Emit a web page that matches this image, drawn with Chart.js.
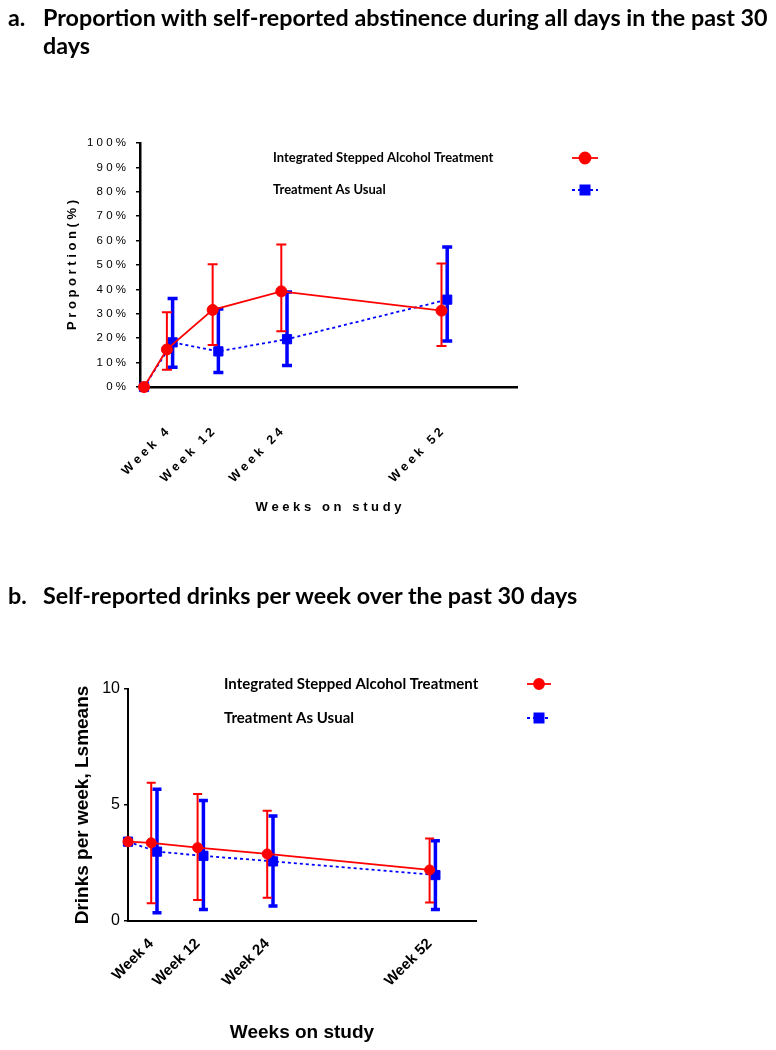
<!DOCTYPE html>
<html><head><meta charset="utf-8">
<script src="https://cdn.jsdelivr.net/npm/chart.js@4.4.1/dist/chart.umd.min.js"></script>
<style>
html,body{margin:0;padding:0;background:#fff;}
#page{position:relative;width:776px;height:1050px;overflow:hidden;background:#fff;}
canvas{position:absolute;left:0;}
#ca{top:0;}
#cb{top:560px;}
.head{position:absolute;left:8px;font-family:Lato,"Open Sans",sans-serif;font-weight:700;font-size:23.3px;color:#000;display:flex;line-height:28px;white-space:nowrap;}
.head .n{width:35px;}
</style></head><body>
<div id="page">
<canvas id="ca" width="776" height="540"></canvas>
<canvas id="cb" width="776" height="490"></canvas>
<div class="head" style="top:2.5px"><span class="n">a.</span><span>Proportion with self-reported abstinence during all days in the past 30<br>days</span></div>
<div class="head" style="top:580.5px"><span class="n">b.</span><span>Self-reported drinks per week over the past 30 days</span></div>
</div>
<script>
// ---------- data ----------
const weeks = [0, 4, 12, 24, 52];
const tickWeeks = [4, 12, 24, 52];
const weekTickLabels = ['Week 4', 'Week 12', 'Week 24', 'Week 52'];
const seriesNames = ['Integrated Stepped Alcohol Treatment', 'Treatment As Usual'];

// panel a: proportion with abstinence (%)
const istAbst     = [0, 15.4, 31.6, 39.2, 31.3];
const istAbstLow  = [null, 7.1, 17.2, 22.8, 16.8];
const istAbstHigh = [null, 30.6, 50.3, 58.4, 50.6];
const tauAbst     = [0, 18.3, 14.6, 19.6, 35.8];
const tauAbstLow  = [null, 8.1, 5.9, 8.8, 18.9];
const tauAbstHigh = [null, 36.3, 32.0, 38.9, 57.4];
const yTicksA = [0, 10, 20, 30, 40, 50, 60, 70, 80, 90, 100];

// panel b: drinks per week (LS means)
const istDrinks     = [3.42, 3.37, 3.16, 2.89, 2.20];
const istDrinksLow  = [null, 0.76, 0.90, 1.00, 0.80];
const istDrinksHigh = [null, 5.96, 5.47, 4.75, 3.56];
const tauDrinks     = [3.42, 2.99, 2.81, 2.57, 1.98];
const tauDrinksLow  = [null, 0.36, 0.50, 0.65, 0.50];
const tauDrinksHigh = [null, 5.68, 5.19, 4.53, 3.46];
const yTicksB = [0, 5, 10];

// ---------- helpers ----------
const RED = '#ff0000', BLUE = '#0000ff';
const DODGE = 1; // horizontal dodge (weeks) for the second series
const spaced = s => s.split('').join(' ');
const pts = (vals, dodge) => weeks.map((w, i) => ({x: w === 0 ? w : w + dodge, y: vals[i]}));

const errorBars = {
  id: 'errorBars',
  beforeDatasetDraw(chart, args, opts) {
    const s = opts.series && opts.series[args.index];
    if (!s) return;
    const ds = chart.data.datasets[args.index];
    const xs = chart.scales.x, ys = chart.scales.y, ctx = chart.ctx;
    ctx.save();
    ctx.strokeStyle = ds.borderColor;
    ctx.lineWidth = s.width;
    ctx.setLineDash([]);
    ds.data.forEach((p, i) => {
      const lo = s.low[i], hi = s.high[i];
      if (lo == null || hi == null) return;
      const x = xs.getPixelForValue(p.x);
      const y1 = ys.getPixelForValue(lo), y2 = ys.getPixelForValue(hi);
      ctx.beginPath();
      ctx.moveTo(x, y1); ctx.lineTo(x, y2);
      ctx.moveTo(x - s.cap, y1); ctx.lineTo(x + s.cap, y1);
      ctx.moveTo(x - s.cap, y2); ctx.lineTo(x + s.cap, y2);
      ctx.stroke();
    });
    ctx.restore();
  }
};

const sideLegend = {
  id: 'sideLegend',
  afterDraw(chart, args, o) {
    const ctx = chart.ctx;
    ctx.save();
    chart.data.datasets.forEach((ds, i) => {
      const y = o.y[i];
      ctx.font = o.font;
      ctx.fillStyle = '#000';
      ctx.textBaseline = 'middle';
      ctx.textAlign = 'left';
      ctx.fillText(ds.label, o.textX, y);
      ctx.strokeStyle = ds.borderColor;
      ctx.lineWidth = ds.borderWidth;
      ctx.setLineDash(ds.borderDash || []);
      ctx.beginPath();
      ctx.moveTo(o.markX - o.half, y); ctx.lineTo(o.markX + o.half, y);
      ctx.stroke();
      ctx.setLineDash([]);
      ctx.fillStyle = ds.backgroundColor;
      ctx.strokeStyle = ds.borderColor;
      Chart.helpers.drawPoint(ctx, {pointStyle: ds.pointStyle, rotation: 0, borderWidth: 1, radius: ds.pointRadius}, o.markX, y);
    });
    ctx.restore();
  }
};

function makeChart(id, cfg) {
  return new Chart(document.getElementById(id), {
    type: 'line',
    data: {
      datasets: [
        {label: seriesNames[0], data: pts(cfg.red, 0), borderColor: RED, backgroundColor: RED,
         borderWidth: 1.8, pointStyle: 'circle', pointRadius: cfg.rRed, pointBorderWidth: 1,
         pointHoverRadius: cfg.rRed, tension: 0, clip: false},
        {label: seriesNames[1], data: pts(cfg.blue, DODGE), borderColor: BLUE, backgroundColor: BLUE,
         borderWidth: 1.8, borderDash: [3, 3], pointStyle: 'rect', pointRadius: cfg.rBlue, pointBorderWidth: 1,
         pointHoverRadius: cfg.rBlue, tension: 0, clip: false}
      ]
    },
    options: {
      responsive: false, animation: false, devicePixelRatio: 1,
      layout: {padding: cfg.padding},
      plugins: {
        legend: {display: false}, tooltip: {enabled: false},
        errorBars: {series: [
          {low: cfg.redLow, high: cfg.redHigh, width: 2, cap: cfg.cap},
          {low: cfg.blueLow, high: cfg.blueHigh, width: 3.5, cap: cfg.cap}
        ]},
        sideLegend: cfg.legend
      },
      scales: {
        x: {
          type: 'linear', min: cfg.xMin, max: cfg.xMax,
          afterBuildTicks: s => { s.ticks = tickWeeks.map(v => ({value: v})); },
          afterFit: s => { s.height = cfg.xHeight; },
          ticks: {
            autoSkip: false, minRotation: 45, maxRotation: 45, padding: cfg.xTickPad, color: '#000',
            font: cfg.xTickFont,
            callback: v => cfg.fmtX(weekTickLabels[tickWeeks.indexOf(v)])
          },
          grid: {display: false, drawTicks: false},
          border: {display: true, color: '#000', width: cfg.axisW},
          title: {display: true, text: cfg.xTitle, color: '#000', font: cfg.xTitleFont, padding: 0}
        },
        y: {
          type: 'linear', min: cfg.yMin, max: cfg.yMax,
          afterBuildTicks: s => { s.ticks = cfg.yTicks.map(v => ({value: v})); },
          afterFit: s => { s.width = cfg.yWidth; },
          ticks: {padding: cfg.yTickPad, color: '#000', font: cfg.yTickFont, callback: cfg.fmtY},
          grid: {display: true, drawOnChartArea: false, drawTicks: true, tickLength: cfg.tickLen, color: '#000', lineWidth: 1.5},
          border: {display: true, color: '#000', width: cfg.axisW},
          title: {display: true, text: cfg.yTitle, color: '#000', font: cfg.yTitleFont, padding: 0}
        }
      }
    },
    plugins: [errorBars, sideLegend]
  });
}

const ARIAL = '"Liberation Sans", Arial, sans-serif';

makeChart('ca', {
  red: istAbst, redLow: istAbstLow, redHigh: istAbstHigh,
  blue: tauAbst, blueLow: tauAbstLow, blueHigh: tauAbstHigh,
  rRed: 5.5, rBlue: 6.5, cap: 5,
  padding: {left: 64.2, right: 259, top: 143, bottom: 25.2},
  xMin: -0.7, xMax: 65.2, xHeight: 127.8, xTickPad: 38,
  xTickFont: {family: ARIAL, size: 12.5, weight: 'bold'},
  fmtX: s => spaced(s),
  xTitle: spaced('Weeks on study'), xTitleFont: {family: ARIAL, size: 13, weight: 'bold'},
  yMin: 0, yMax: 100, yTicks: yTicksA, yWidth: 75.8, yTickPad: 10, tickLen: 4,
  yTickFont: {family: ARIAL, size: 11.5},
  fmtY: v => spaced(v + '%'),
  yTitle: spaced('Proportion(%)'), yTitleFont: {family: ARIAL, size: 13, weight: 'bold'},
  axisW: 2.5,
  legend: {textX: 273, y: [158, 190], markX: 585, half: 13, font: 'bold 13px Lato, "Open Sans", sans-serif'}
});

makeChart('cb', {
  red: istDrinks, redLow: istDrinksLow, redHigh: istDrinksHigh,
  blue: tauDrinks, blueLow: tauDrinksLow, blueHigh: tauDrinksHigh,
  rRed: 5, rBlue: 6.5, cap: 4.5,
  padding: {left: 71.6, right: 300, top: 129, bottom: 5.6},
  xMin: 0, xMax: 60, xHeight: 123.4, xTickPad: 14,
  xTickFont: {family: ARIAL, size: 15, weight: 'bold'},
  fmtX: s => s,
  xTitle: 'Weeks on study', xTitleFont: {family: ARIAL, size: 19, weight: 'bold'},
  yMin: 0, yMax: 10, yTicks: yTicksB, yWidth: 56.4, yTickPad: 4, tickLen: 4,
  yTickFont: {family: ARIAL, size: 16},
  fmtY: v => String(v),
  yTitle: 'Drinks per week, Lsmeans', yTitleFont: {family: ARIAL, size: 19, weight: 'bold'},
  axisW: 2,
  legend: {textX: 224, y: [124, 158], markX: 539, half: 12, font: 'bold 15px Lato, "Open Sans", sans-serif'}
});
</script>
</body></html>
